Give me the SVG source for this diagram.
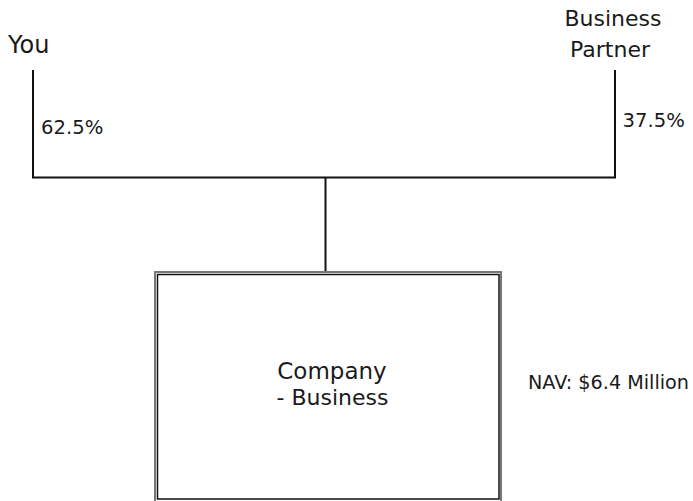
<svg xmlns="http://www.w3.org/2000/svg" width="693" height="501" viewBox="0 0 693 501">
<style>
text{font-family:"DejaVu Sans","Liberation Sans",sans-serif;fill:#1a1a1a}
.lbl{font-size:22px}
.pct{font-size:19.6px}
.conn{stroke:#111;stroke-width:2;fill:none}
</style>
<rect width="693" height="501" fill="#fff"/>
<g id="connectors">
<path class="conn" d="M33,70 V177.5 H615 V70"/>
<path class="conn" d="M325.5,177.5 V272"/>
</g>
<g id="you">
<text x="8" y="53" style="font-size:24px">You</text>
<text class="pct" x="41" y="134">62.5%</text>
</g>
<g id="partner">
<text class="lbl" x="613" y="26" text-anchor="middle">Business</text>
<text class="lbl" x="610" y="57" text-anchor="middle">Partner</text>
<text class="pct" x="622.5" y="127">37.5%</text>
</g>
<g id="company">
<rect x="155" y="272" width="346" height="232" fill="#fff" stroke="#777" stroke-width="2"/>
<rect x="157.5" y="274.5" width="341.5" height="224.5" fill="#fff" stroke="#111" stroke-width="1.5"/>
<text x="332" y="379" text-anchor="middle" style="font-size:23px">Company</text>
<text class="lbl" x="332.5" y="405" text-anchor="middle">- Business</text>
</g>
<g id="nav">
<text x="528" y="389" style="font-size:19.2px">NAV: $6.4 Million</text>
</g>
</svg>
